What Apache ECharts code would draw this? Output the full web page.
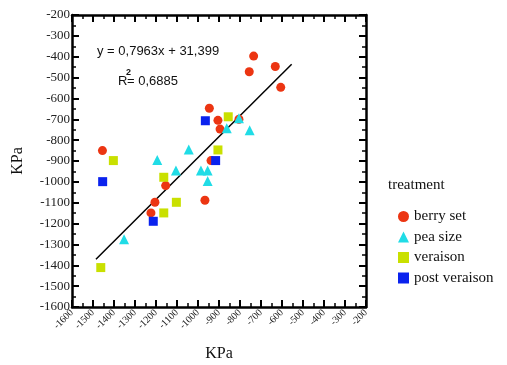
<!DOCTYPE html>
<html>
<head>
<meta charset="utf-8">
<script src="https://cdn.jsdelivr.net/npm/echarts@6/dist/echarts.min.js"></script>
<style>
  html, body { margin: 0; padding: 0; background: #fff; }
  #chart { width: 507px; height: 365px; }
</style>
</head>
<body>
<div id="chart"></div>
<script>
// values (KPa)
const berrySet = [
  [-1455, -850], [-735, -397], [-756, -472], [-632, -447], [-606, -547],
  [-946, -647], [-905, -705], [-895, -747], [-938, -898], [-805, -700],
  [-1154, -1018], [-1205, -1098], [-1224, -1149], [-967, -1088]
]
const peaSize = [
  [-1044, -845], [-1194, -895], [-1105, -946], [-986, -946], [-954, -946],
  [-954, -996], [-1352, -1275], [-863, -743], [-805, -695], [-754, -753]
]
const veraison = [
  [-1403, -898], [-856, -688], [-905, -847], [-1163, -978],
  [-1103, -1098], [-1163, -1149], [-1463, -1411]
]
const postVeraison = [
  [-965, -707], [-916, -898], [-1454, -999], [-1213, -1189]
]
const fitLine = [[-1486, -1371], [-554, -436]]

const SERIES_CONFIGS = [
  { name: 'berry set', data: berrySet, symbol: 'circle', size: 9, color: '#ec3512' },
  { name: 'pea size', data: peaSize, symbol: 'triangle', size: 10, color: '#20dce6' },
  { name: 'veraison', data: veraison, symbol: 'rect', size: 9, color: '#c9e000' },
  { name: 'post veraison', data: postVeraison, symbol: 'rect', size: 9, color: '#0a22ee' },
]

const SERIF = '"Liberation Serif", "DejaVu Serif", serif'
const SANS = '"Liberation Sans", Arial, sans-serif'

function frameAxis(position, withLabels, rotate) {
  return {
    type: 'value',
    position,
    min: -1600,
    max: -200,
    interval: 100,
    axisLine: { show: true, onZero: false, lineStyle: { color: '#000', width: 2.5 } },
    axisTick: { show: true, inside: true, length: 7, lineStyle: { color: '#000', width: 2 } },
    minorTick: { show: true, splitNumber: 2, length: 4, lineStyle: { color: '#000', width: 1.5 } },
    axisLabel: withLabels
      ? {
          show: true, color: '#222', fontFamily: SERIF,
          fontSize: rotate ? 10 : 13, rotate: rotate || 0, margin: rotate ? 4 : 2,
          formatter: (v) => String(v),
        }
      : { show: false },
    splitLine: { show: false },
  }
}

const chart = echarts.init(document.getElementById('chart'))

const series = SERIES_CONFIGS.map((cfg) => ({
  name: cfg.name,
  type: 'scatter',
  data: cfg.data,
  symbol: cfg.symbol,
  symbolSize: cfg.size,
  itemStyle: { color: cfg.color, opacity: 1 },
  z: 3,
}))

series.push({
  name: 'fit',
  type: 'line',
  data: fitLine,
  symbol: 'none',
  lineStyle: { color: '#000', width: 1.5 },
  z: 2,
})

chart.setOption({
  animation: false,
  grid: { left: 72, top: 15, width: 294, height: 292, containLabel: false, outerBoundsMode: 'none' },
  xAxis: [
    Object.assign(frameAxis('bottom', true, 45), {
      name: 'KPa', nameLocation: 'middle', nameGap: 39,
      nameTextStyle: { fontFamily: SERIF, fontSize: 16, color: '#111' },
    }),
    frameAxis('top', false),
  ],
  yAxis: [
    Object.assign(frameAxis('left', true), {
      name: 'KPa', nameLocation: 'middle', nameGap: 46, nameRotate: 90,
      nameTextStyle: { fontFamily: SERIF, fontSize: 16, color: '#111' },
    }),
    frameAxis('right', false),
  ],
  title: {
    text: 'treatment',
    left: 383, top: 173,
    textStyle: { fontFamily: SERIF, fontSize: 15, fontWeight: 'normal', color: '#111' },
  },
  legend: {
    data: SERIES_CONFIGS.map((c) => c.name),
    orient: 'vertical',
    left: 393, top: 204,
    itemWidth: 11, itemHeight: 11, itemGap: 5.5,
    textStyle: { fontFamily: SERIF, fontSize: 15, color: '#111' },
  },
  graphic: [
    {
      type: 'text', left: 97, top: 45,
      style: { text: 'y = 0,7963x + 31,399', font: '13px ' + SANS, fill: '#111' },
    },
    {
      type: 'text', left: 118, top: 75,
      style: { text: 'R', font: '13px ' + SANS, fill: '#111' },
    },
    {
      type: 'text', left: 126, top: 68,
      style: { text: '2', font: 'bold 9px ' + SANS, fill: '#111' },
    },
    {
      type: 'text', left: 127, top: 75,
      style: { text: '= 0,6885', font: '13px ' + SANS, fill: '#111' },
    },
  ],
  series,
})
</script>
</body>
</html>
